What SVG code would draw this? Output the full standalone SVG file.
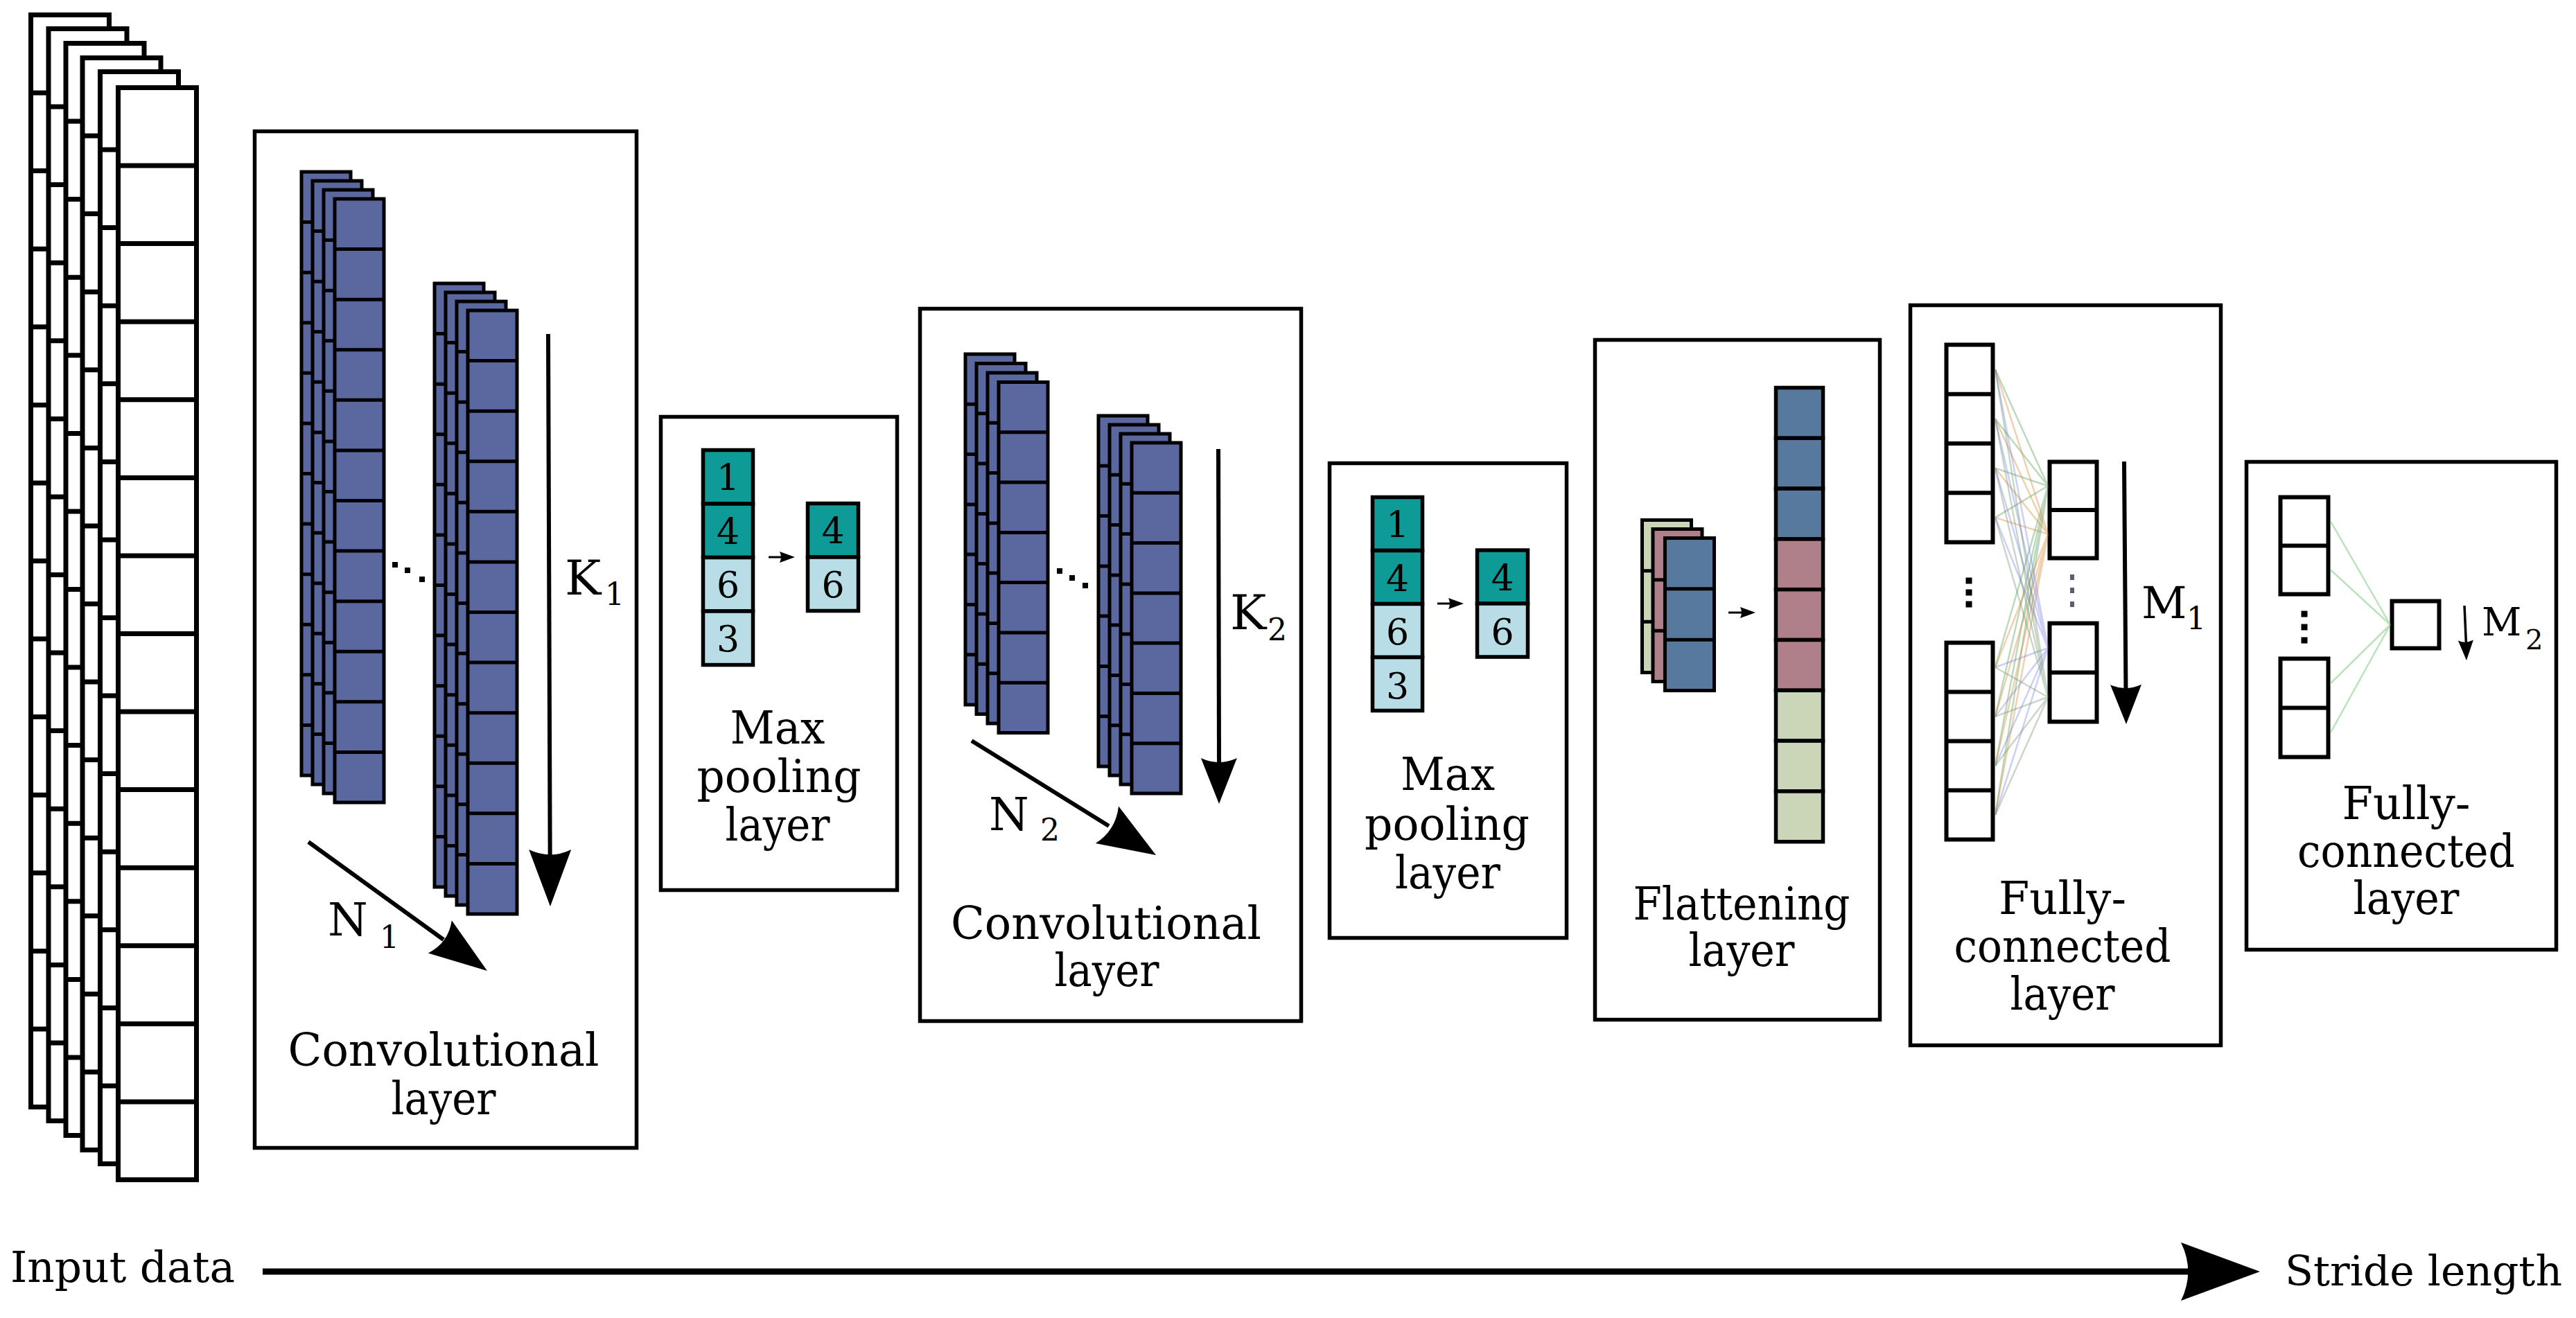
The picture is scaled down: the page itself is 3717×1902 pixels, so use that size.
<svg xmlns="http://www.w3.org/2000/svg" xmlns:xlink="http://www.w3.org/1999/xlink" width="3717" height="1902" viewBox="0 0 3717 1902" font-family="DejaVu Serif, serif">
<style>
.box{fill:#fff;stroke:#000;stroke-width:5.5}
.inr{fill:#fff;stroke:#000;stroke-width:7}
.inl{fill:none;stroke:#000;stroke-width:7}
.br{fill:#5b679f;stroke:#000;stroke-width:5}
.bl{fill:none;stroke:#000;stroke-width:5}
.cell{stroke:#000;stroke-width:5.5}
.tk{fill:#0e9a96}
.lb{fill:#b9dde6}
.fb{fill:#58799e}
.fp{fill:#b0808a}
.fg{fill:#cbd6b9}
.fc{fill:#fff;stroke:#000;stroke-width:6}
.fcl{fill:none;stroke:#000;stroke-width:6}
.t{font-family:'DejaVu Serif',serif;font-size:66px;text-anchor:middle;fill:#000}
.ts{font-family:'DejaVu Serif',serif;font-size:62px;fill:#000}
.num{font-family:'DejaVu Serif',serif;font-size:52px;text-anchor:middle;fill:#000}
.sym{font-family:'DejaVu Serif',serif;font-size:70px;fill:#000}
.sub{font-size:44px}
.ar{fill:none;stroke:#000;stroke-width:6}
.ah{fill:#000}
.dot{fill:#000}
</style>
<defs>
<path id="ah" d="M0,0L-1,-0.5Q-0.82,0,-1,0.5Z"/>
<g id="inLayer"><rect x="0" y="0" width="113" height="1576" class="inr"/><path class="inl" d="M0,112.6h113M0,225.1h113M0,337.7h113M0,450.3h113M0,562.9h113M0,675.4h113M0,788h113M0,900.6h113M0,1013.1h113M0,1125.7h113M0,1238.3h113M0,1350.9h113M0,1463.4h113"/></g>
<g id="b12"><rect x="0" y="0" width="71" height="871" class="br"/><path class="bl" d="M0,72.6h71M0,145.2h71M0,217.8h71M0,290.3h71M0,362.9h71M0,435.5h71M0,508.1h71M0,580.7h71M0,653.3h71M0,725.8h71M0,798.4h71"/></g>
<g id="b7"><rect x="0" y="0" width="71" height="506" class="br"/><path class="bl" d="M0,72.3h71M0,144.6h71M0,216.9h71M0,289.1h71M0,361.4h71M0,433.7h71"/></g>
<g id="f3"><rect x="0" y="0" width="71" height="220" stroke="#000" stroke-width="5"/><path class="bl" d="M0,73.3h71M0,146.7h71"/></g>
</defs>
<rect x="0" y="0" width="3717" height="1902" fill="#fff"/>

<g id="input-data">
<use xlink:href="#inLayer" transform="translate(44.5,21.5)"/>
<use xlink:href="#inLayer" transform="translate(70,41.5)"/>
<use xlink:href="#inLayer" transform="translate(95,62.5)"/>
<use xlink:href="#inLayer" transform="translate(119,83.5)"/>
<use xlink:href="#inLayer" transform="translate(144.5,103.5)"/>
<use xlink:href="#inLayer" transform="translate(170.5,126.5)"/>
<text class="ts" x="15" y="1850" textLength="324" lengthAdjust="spacingAndGlyphs">Input data</text>
</g>

<g id="conv1">
<rect class="box" x="367.5" y="189.5" width="551" height="1467"/>
<use xlink:href="#b12" transform="translate(435,248)"/>
<use xlink:href="#b12" transform="translate(451,261)"/>
<use xlink:href="#b12" transform="translate(467,274)"/>
<use xlink:href="#b12" transform="translate(483,287)"/>
<use xlink:href="#b12" transform="translate(627,409)"/>
<use xlink:href="#b12" transform="translate(643,422)"/>
<use xlink:href="#b12" transform="translate(659,435)"/>
<use xlink:href="#b12" transform="translate(675,448)"/>
<rect class="dot" x="566" y="811" width="8" height="8"/>
<rect class="dot" x="584" y="819" width="8" height="8"/>
<rect class="dot" x="605" y="832" width="8" height="8"/>
<text class="sym" x="815" y="858">K<tspan class="sub" x="873" y="873">1</tspan></text>
<text class="sym" x="473" y="1350" style="font-size:66px">N<tspan class="sub" x="548" y="1368">1</tspan></text>
<text class="t" x="640" y="1538" textLength="449" lengthAdjust="spacingAndGlyphs">Convolutional</text>
<text class="t" x="640" y="1608" textLength="151" lengthAdjust="spacingAndGlyphs">layer</text>
</g>

<g id="pool1">
<rect class="box" x="953.5" y="601.5" width="341" height="683"/>
<rect class="cell tk" x="1014.5" y="649.5" width="72" height="77.5"/>
<rect class="cell tk" x="1014.5" y="727" width="72" height="77.5"/>
<rect class="cell lb" x="1014.5" y="804.5" width="72" height="77.5"/>
<rect class="cell lb" x="1014.5" y="882" width="72" height="77.5"/>
<rect class="cell tk" x="1165.5" y="726.5" width="73" height="77.5"/>
<rect class="cell lb" x="1165.5" y="804" width="73" height="77.5"/>
<text class="num" x="1050.5" y="707">1</text>
<text class="num" x="1050.5" y="785">4</text>
<text class="num" x="1050.5" y="862">6</text>
<text class="num" x="1050.5" y="940">3</text>
<text class="num" x="1202" y="784">4</text>
<text class="num" x="1202" y="862">6</text>
<text class="t" x="1122" y="1073" textLength="137" lengthAdjust="spacingAndGlyphs">Max</text>
<text class="t" x="1124" y="1143" textLength="237" lengthAdjust="spacingAndGlyphs">pooling</text>
<text class="t" x="1122" y="1213" textLength="151" lengthAdjust="spacingAndGlyphs">layer</text>
</g>

<g id="conv2">
<rect class="box" x="1327.5" y="445.5" width="550" height="1028"/>
<use xlink:href="#b7" transform="translate(1393,511)"/>
<use xlink:href="#b7" transform="translate(1409,524.5)"/>
<use xlink:href="#b7" transform="translate(1425,538)"/>
<use xlink:href="#b7" transform="translate(1441,551.5)"/>
<use xlink:href="#b7" transform="translate(1585,600)"/>
<use xlink:href="#b7" transform="translate(1601,613)"/>
<use xlink:href="#b7" transform="translate(1617,626)"/>
<use xlink:href="#b7" transform="translate(1633,639)"/>
<rect class="dot" x="1525" y="820" width="8" height="8"/>
<rect class="dot" x="1543" y="830" width="8" height="8"/>
<rect class="dot" x="1562" y="841" width="8" height="8"/>
<text class="sym" x="1775" y="908">K<tspan class="sub" x="1829" y="924">2</tspan></text>
<text class="sym" x="1427" y="1198" style="font-size:66px">N<tspan class="sub" x="1501" y="1213">2</tspan></text>
<text class="t" x="1596" y="1355" textLength="448" lengthAdjust="spacingAndGlyphs">Convolutional</text>
<text class="t" x="1597" y="1423" textLength="151" lengthAdjust="spacingAndGlyphs">layer</text>
</g>

<g id="pool2">
<rect class="box" x="1918.5" y="668.5" width="342" height="685"/>
<rect class="cell tk" x="1980.5" y="717.5" width="72" height="77"/>
<rect class="cell tk" x="1980.5" y="794.5" width="72" height="77"/>
<rect class="cell lb" x="1980.5" y="871.5" width="72" height="77"/>
<rect class="cell lb" x="1980.5" y="948.5" width="72" height="77"/>
<rect class="cell tk" x="2131.5" y="794" width="73" height="77"/>
<rect class="cell lb" x="2131.5" y="871" width="73" height="77"/>
<text class="num" x="2016.5" y="775">1</text>
<text class="num" x="2016.5" y="853">4</text>
<text class="num" x="2016.5" y="930">6</text>
<text class="num" x="2016.5" y="1008">3</text>
<text class="num" x="2168" y="852">4</text>
<text class="num" x="2168" y="930">6</text>
<text class="t" x="2089" y="1140" textLength="136" lengthAdjust="spacingAndGlyphs">Max</text>
<text class="t" x="2088" y="1212" textLength="238" lengthAdjust="spacingAndGlyphs">pooling</text>
<text class="t" x="2089" y="1282" textLength="152" lengthAdjust="spacingAndGlyphs">layer</text>
</g>

<g id="flatten">
<rect class="box" x="2301.5" y="490.5" width="411" height="981"/>
<use xlink:href="#f3" fill="#cbd6b9" transform="translate(2369.5,750.5)"/>
<use xlink:href="#f3" fill="#b0808a" transform="translate(2385,763.5)"/>
<use xlink:href="#f3" fill="#58799e" transform="translate(2402.5,776.5)"/>
<rect class="cell fb" x="2562.5" y="559.5" width="68" height="72.8"/>
<rect class="cell fb" x="2562.5" y="632.3" width="68" height="72.8"/>
<rect class="cell fb" x="2562.5" y="705.1" width="68" height="72.8"/>
<rect class="cell fp" x="2562.5" y="777.9" width="68" height="72.8"/>
<rect class="cell fp" x="2562.5" y="850.7" width="68" height="72.8"/>
<rect class="cell fp" x="2562.5" y="923.5" width="68" height="72.8"/>
<rect class="cell fg" x="2562.5" y="996.3" width="68" height="72.8"/>
<rect class="cell fg" x="2562.5" y="1069.1" width="68" height="72.8"/>
<rect class="cell fg" x="2562.5" y="1141.9" width="68" height="72.8"/>
<text class="t" x="2513" y="1327" textLength="313" lengthAdjust="spacingAndGlyphs">Flattening</text>
<text class="t" x="2513" y="1394" textLength="153" lengthAdjust="spacingAndGlyphs">layer</text>
</g>

<g id="fc1">
<rect class="box" x="2756.5" y="440.5" width="448" height="1068"/>
<rect class="fc" x="2808.5" y="497.5" width="67" height="285"/>
<path class="fcl" d="M2808.5,568.75h67M2808.5,640h67M2808.5,711.25h67"/>
<rect class="fc" x="2808.5" y="927.5" width="67" height="284"/>
<path class="fcl" d="M2808.5,998.5h67M2808.5,1069.5h67M2808.5,1140.5h67"/>
<rect class="fc" x="2957.5" y="666.5" width="68" height="139"/>
<path class="fcl" d="M2957.5,736h68"/>
<rect class="fc" x="2957.5" y="899.5" width="68" height="142"/>
<path class="fcl" d="M2957.5,970.5h68"/>
<rect class="dot" x="2836.5" y="833.5" width="9" height="9"/>
<rect class="dot" x="2836.5" y="850.5" width="9" height="9"/>
<rect class="dot" x="2836.5" y="867.5" width="9" height="9"/>
<rect x="2987" y="829" width="6" height="8" fill="#5a5f6e"/>
<rect x="2987" y="848" width="6" height="8" fill="#5a5f6e"/>
<rect x="2987" y="868" width="6" height="8" fill="#5a5f6e"/>
<text class="sym" x="3090" y="892" style="font-size:64px">M<tspan class="sub" x="3155" y="908">1</tspan></text>
<text class="t" x="2976" y="1319" textLength="184" lengthAdjust="spacingAndGlyphs">Fully-</text>
<text class="t" x="2976" y="1388" textLength="313" lengthAdjust="spacingAndGlyphs">connected</text>
<text class="t" x="2976" y="1457" textLength="151" lengthAdjust="spacingAndGlyphs">layer</text>
</g>

<g id="fc2">
<rect class="box" x="3241.5" y="666.5" width="447" height="704"/>
<rect class="fc" x="3290.5" y="717.5" width="69" height="140"/>
<path class="fcl" d="M3290.5,787.5h69"/>
<rect class="fc" x="3290.5" y="950.5" width="69" height="142"/>
<path class="fcl" d="M3290.5,1021.5h69"/>
<rect class="fc" x="3451.5" y="867.5" width="68" height="68"/>
<rect class="dot" x="3320.5" y="881.5" width="9" height="9"/>
<rect class="dot" x="3320.5" y="900.5" width="9" height="9"/>
<rect class="dot" x="3320.5" y="919.5" width="9" height="9"/>
<text class="sym" x="3581" y="917" style="font-size:56px">M<tspan class="sub" x="3644" y="937" style="font-size:40px">2</tspan></text>
<text class="t" x="3472" y="1182" textLength="185" lengthAdjust="spacingAndGlyphs">Fully-</text>
<text class="t" x="3472" y="1251" textLength="314" lengthAdjust="spacingAndGlyphs">connected</text>
<text class="t" x="3472" y="1319" textLength="153" lengthAdjust="spacingAndGlyphs">layer</text>
</g>

<g id="connectors">
<path fill="none" stroke="rgba(90,160,90,0.4)" stroke-width="2.5" d="M2879,533.1L2955,701.3M2879,604.4L2955,701.3M2879,675.6L2955,701.3M2879,746.9L2955,701.3M2879,963L2955,701.3M2879,1034L2955,701.3M2879,1105L2955,701.3M2879,1176L2955,701.3"/>
<path fill="none" stroke="rgba(215,140,60,0.4)" stroke-width="2.5" d="M2879,533.1L2955,770.8M2879,604.4L2955,770.8M2879,675.6L2955,770.8M2879,746.9L2955,770.8M2879,963L2955,770.8M2879,1034L2955,770.8M2879,1105L2955,770.8M2879,1176L2955,770.8"/>
<path fill="none" stroke="rgba(110,120,230,0.35)" stroke-width="2.5" d="M2879,533.1L2955,935M2879,604.4L2955,935M2879,675.6L2955,935M2879,746.9L2955,935M2879,963L2955,935M2879,1034L2955,935M2879,1105L2955,935M2879,1176L2955,935"/>
<path fill="none" stroke="rgba(100,140,100,0.35)" stroke-width="2.5" d="M2879,533.1L2955,1006M2879,604.4L2955,1006M2879,675.6L2955,1006M2879,746.9L2955,1006M2879,963L2955,1006M2879,1034L2955,1006M2879,1105L2955,1006M2879,1176L2955,1006"/>
<path fill="none" stroke="rgba(120,200,120,0.5)" stroke-width="2.5" d="M3363,752.5L3449,901.5M3363,822.5L3449,901.5M3363,986L3449,901.5M3363,1057L3449,901.5"/>

<path class="ar" d="M791,482L793.7,1245"/>
<use xlink:href="#ah" class="ah" transform="translate(794,1308) rotate(89.8) scale(82,61)"/>
<path class="ar" d="M445,1215L640,1356"/>
<use xlink:href="#ah" class="ah" transform="translate(703,1401) rotate(35.8) scale(84,58)"/>
<path class="ar" d="M1758,648L1759,1105"/>
<use xlink:href="#ah" class="ah" transform="translate(1759,1160) rotate(89.9) scale(66,52)"/>
<path class="ar" d="M1402,1069L1600,1192"/>
<use xlink:href="#ah" class="ah" transform="translate(1668,1234) rotate(31.8) scale(83,63)"/>
<path class="ar" d="M3065,666L3067.5,1000"/>
<use xlink:href="#ah" class="ah" transform="translate(3068,1045) rotate(89.5) scale(57,45)"/>
<path class="ar" style="stroke-width:3.5" d="M3556,874L3558.5,930"/>
<use xlink:href="#ah" class="ah" transform="translate(3559,953) rotate(87.8) scale(29,22)"/>
<path class="ar" style="stroke-width:3" d="M1109,804H1130"/>
<use xlink:href="#ah" class="ah" transform="translate(1147,804) scale(22,16)"/>
<path class="ar" style="stroke-width:3" d="M2074,871H2095"/>
<use xlink:href="#ah" class="ah" transform="translate(2112,871) scale(22,16)"/>
<path class="ar" style="stroke-width:3" d="M2494,884H2515"/>
<use xlink:href="#ah" class="ah" transform="translate(2533,884) scale(22,16)"/>
<path class="ar" style="stroke-width:9" d="M379,1835H3170"/>
<use xlink:href="#ah" class="ah" transform="translate(3261,1835) scale(114,84)"/>
</g>

<g id="stride-label">
<text class="ts" x="3297" y="1855" textLength="400" lengthAdjust="spacingAndGlyphs" style="font-size:60px">Stride length</text>
</g>
</svg>
